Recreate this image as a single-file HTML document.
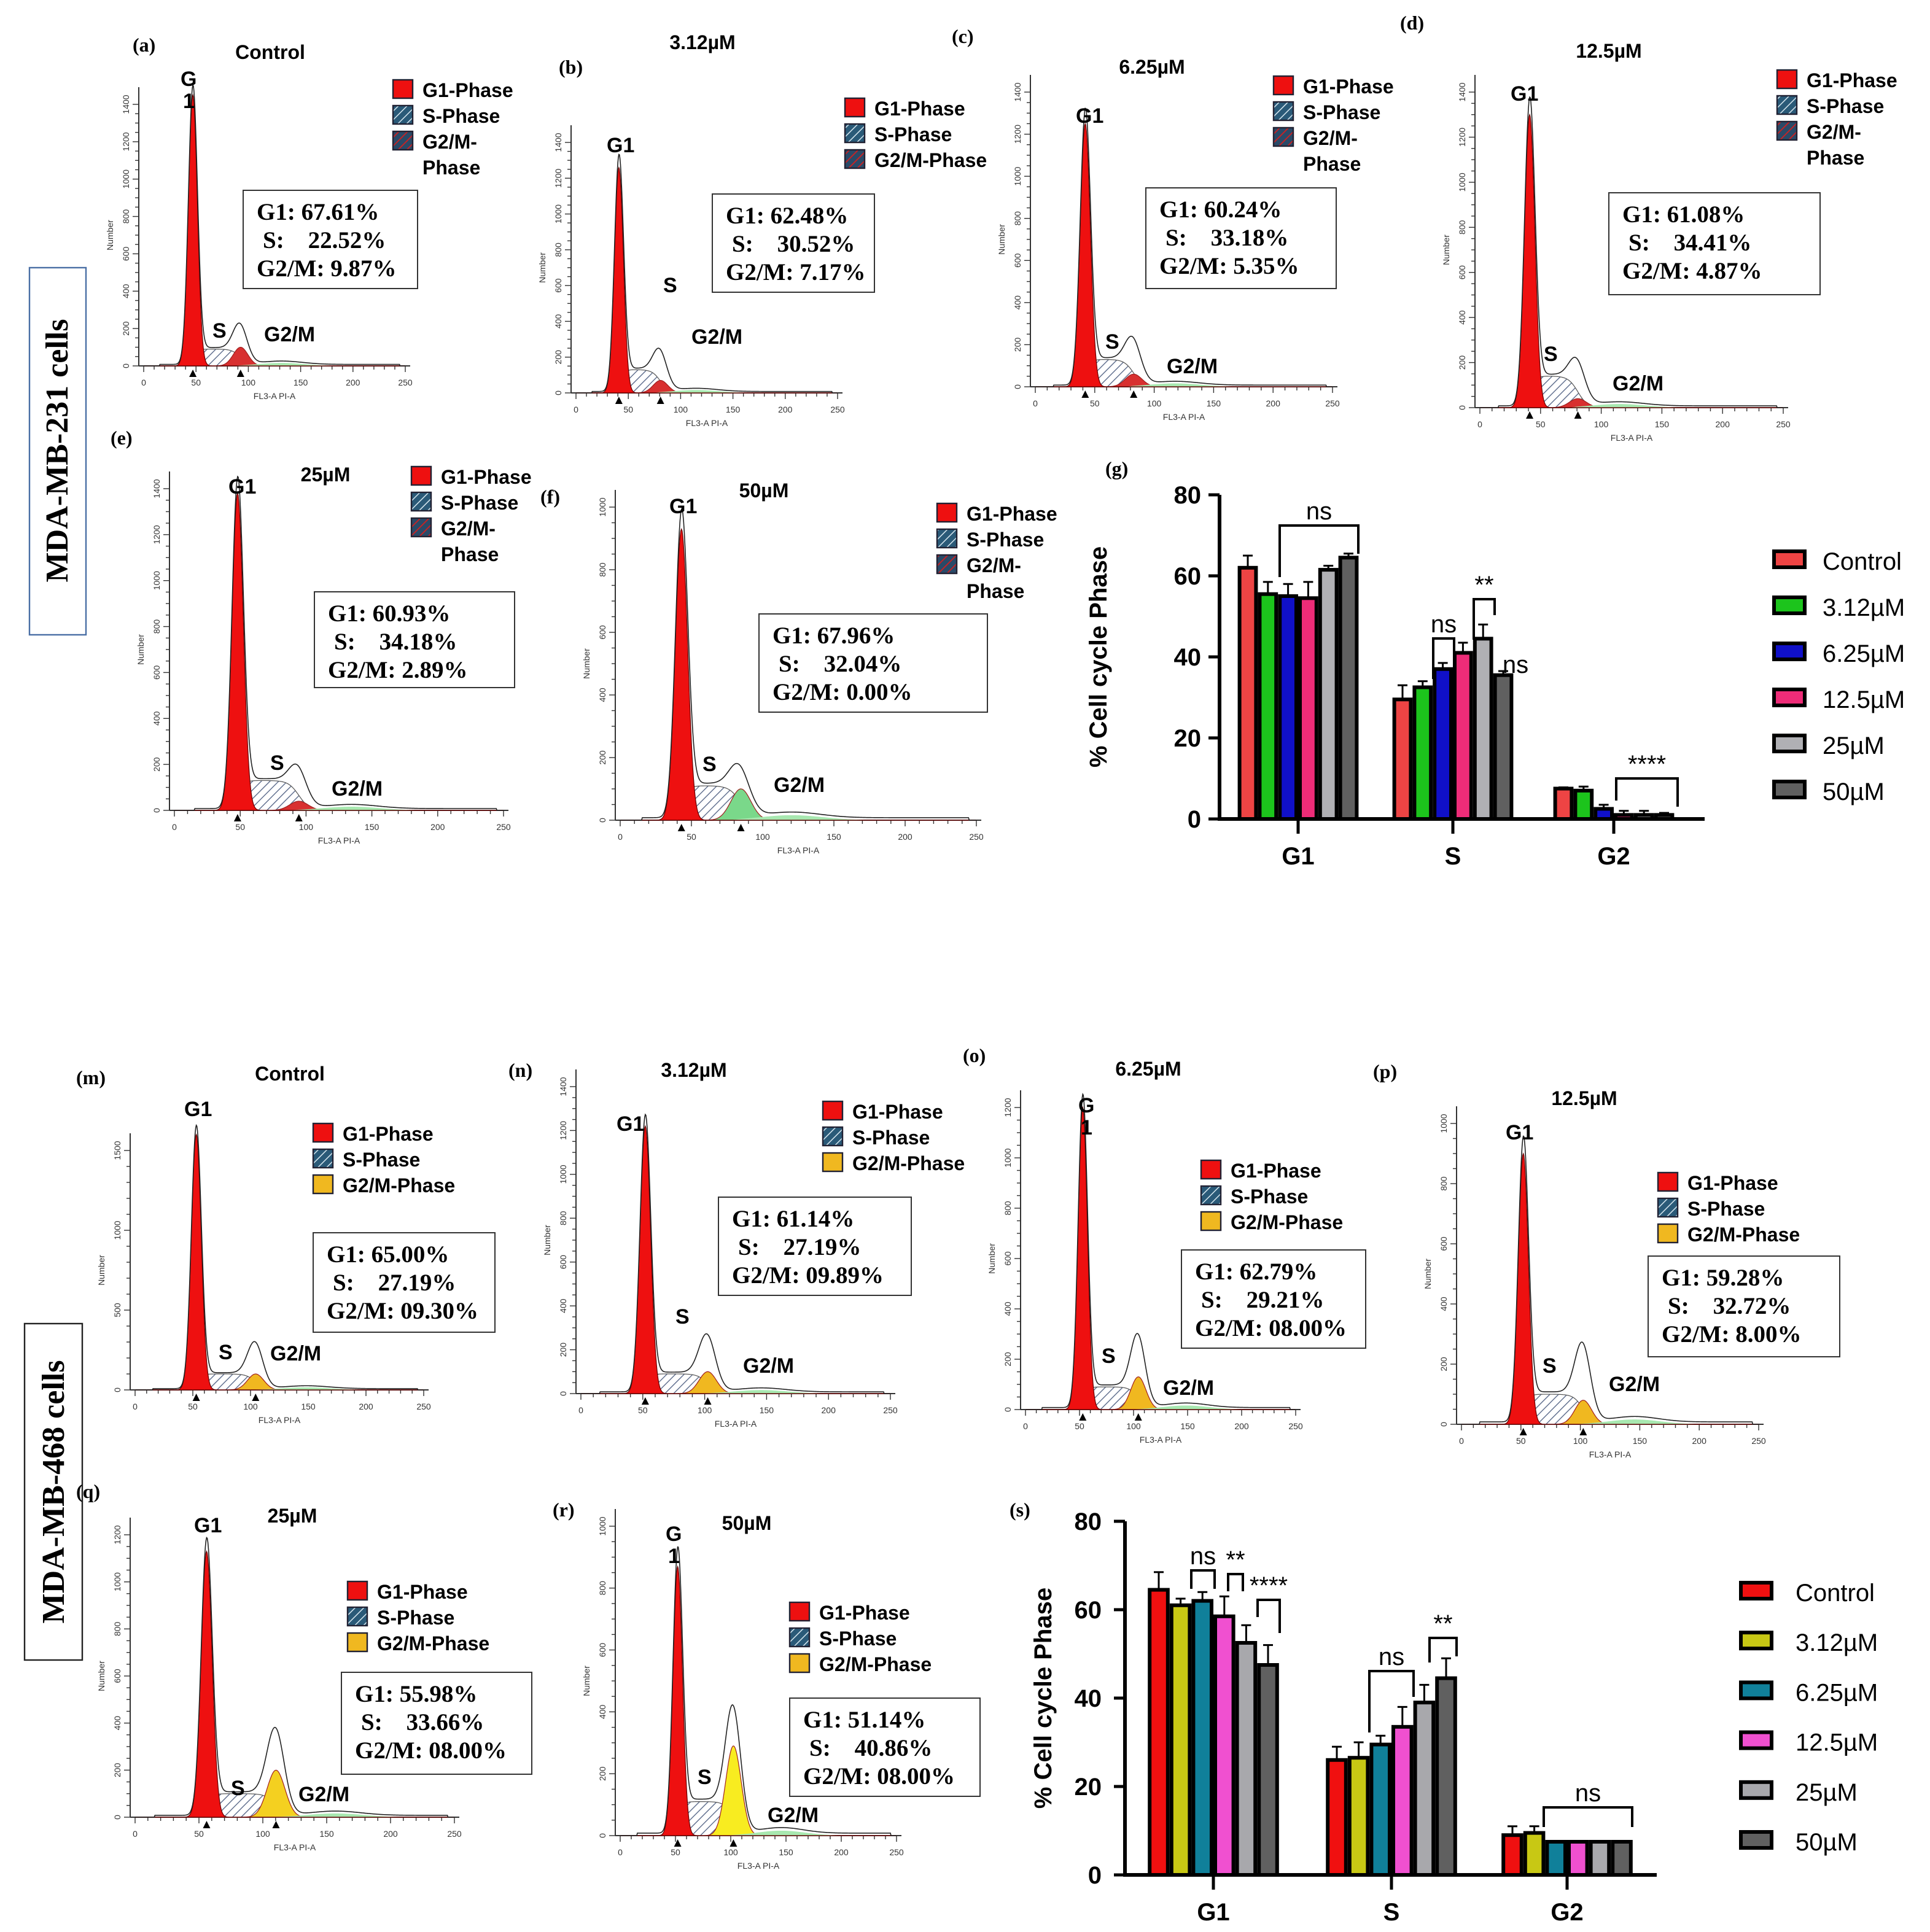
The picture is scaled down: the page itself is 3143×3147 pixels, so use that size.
<!DOCTYPE html>
<html><head><meta charset="utf-8"><style>
html,body{margin:0;padding:0;background:#fff}
svg{display:block}
.lg{font-family:"Liberation Sans",sans-serif;font-weight:bold;font-size:16px}
.st{font-family:"Liberation Serif",serif;font-weight:bold;font-size:19.5px;white-space:pre}
.tk{font-family:"Liberation Sans",sans-serif;font-size:7px;fill:#333}
.pl{font-family:"Liberation Serif",serif;font-weight:bold;font-size:16px}
.ti{font-family:"Liberation Sans",sans-serif;font-weight:bold;font-size:16px}
.pk{font-family:"Liberation Sans",sans-serif;font-weight:bold;font-size:17px}
.bt{font-family:"Liberation Sans",sans-serif;font-weight:bold;font-size:20px}
.bl{font-family:"Liberation Sans",sans-serif;font-size:20px}
</style></head><body>
<svg id="fig" xmlns="http://www.w3.org/2000/svg" width="3143" height="3147" viewBox="0 0 1571.5 1573.5">
<defs>
<pattern id="hatch" patternUnits="userSpaceOnUse" width="5" height="5" patternTransform="rotate(45)">
<rect width="5" height="5" fill="#fff"/><line x1="0" y1="0" x2="0" y2="5" stroke="#5a6a8a" stroke-width="1.4"/></pattern>
<pattern id="hatchL" patternUnits="userSpaceOnUse" width="5" height="5" patternTransform="rotate(45)">
<rect width="5" height="5" fill="#2a5a78"/><line x1="0" y1="0" x2="0" y2="5" stroke="#d8e8f0" stroke-width="1.5"/></pattern>
<pattern id="hatchR" patternUnits="userSpaceOnUse" width="5" height="5" patternTransform="rotate(45)">
<rect width="5" height="5" fill="#2a4a68"/><line x1="0" y1="0" x2="0" y2="5" stroke="#d02020" stroke-width="1.8"/></pattern>
</defs>
<g>
<rect x="24" y="218" width="46" height="299" fill="#fff" stroke="#4a6fa5" stroke-width="1.2"/>
<text transform="translate(55,367) rotate(-90)" text-anchor="middle" style="font-family:'Liberation Serif',serif;font-weight:bold;font-size:26px">MDA-MB-231 cells</text></g>
<g>
<rect x="20" y="1078" width="47" height="274" fill="#fff" stroke="#222" stroke-width="1.2"/>
<text transform="translate(52,1215) rotate(-90)" text-anchor="middle" style="font-family:'Liberation Serif',serif;font-weight:bold;font-size:26px">MDA-MB-468 cells</text></g>
<g id="hists"></g>
<g id="bars"></g>
</svg>
<script>
const NS="http://www.w3.org/2000/svg";
function mk(p,tag,a,txt){const e=document.createElementNS(NS,tag);for(const k in a)e.setAttribute(k,a[k]);if(txt!==undefined)e.textContent=txt;p.appendChild(e);return e;}

// histogram panel parameters
const panelIds=['a','b','c','d','e','f','m','n','o','p','q','r'];
const panelTitles=['Control','3.12µM','6.25µM','12.5µM','25µM','50µM','Control','3.12µM','6.25µM','12.5µM','25µM','50µM'];
const g1Peak=[1450,1260,1250,1300,1380,930,1600,1220,1200,900,1130,870];
const g1Mean=[47,41,42,41,48,43,53,52,53,52,56,52];
const sLevel=[90,130,130,140,130,110,100,90,90,100,100,110];
const g2Peak=[100,70,60,40,40,100,100,100,130,80,200,290];
const g2Outline=[215,230,220,200,180,160,290,260,290,260,370,410];
const statsG1=['67.61%','62.48%','60.24%','61.08%','60.93%','67.96%','65.00%','61.14%','62.79%','59.28%','55.98%','51.14%'];
const statsS=['22.52%','30.52%','33.18%','34.41%','34.18%','32.04%','27.19%','27.19%','29.21%','32.72%','33.66%','40.86%'];
const statsG2=['9.87%','7.17%','5.35%','4.87%','2.89%','0.00%','09.30%','09.89%','08.00%','8.00%','08.00%','08.00%'];

const L={
a:{x0:117,x1:330,yb:298,yt:85,tmax:1400,tstep:200,lab:[108,42],tit:[220,48],leg:[320,65],box:[198,155,142,80],lbl:[[147,70],[173,275],[215,278]],g2c:'#d83030',twoLine:true,g1split:true},
b:{x0:469,x1:682,yb:320,yt:116,tmax:1400,tstep:200,lab:[455,60],tit:[572,40],leg:[688,80],box:[580,158,132,80],lbl:[[494,124],[540,238],[563,280]],g2c:'#d83030',twoLine:false},
c:{x0:843,x1:1085,yb:315,yt:75,tmax:1400,tstep:200,lab:[775,35],tit:[938,60],leg:[1037,62],box:[933,153,155,82],lbl:[[876,100],[900,284],[950,304]],g2c:'#d83030',twoLine:true},
d:{x0:1205,x1:1452,yb:332,yt:75,tmax:1400,tstep:200,lab:[1140,24],tit:[1310,47],leg:[1447,57],box:[1310,157,172,83],lbl:[[1230,82],[1257,294],[1313,318]],g2c:'#d83030',twoLine:true},
e:{x0:142,x1:410,yb:660,yt:398,tmax:1400,tstep:200,lab:[90,362],tit:[265,392],leg:[335,380],box:[256,482,163,78],lbl:[[186,402],[220,627],[270,648]],g2c:'#d83030',twoLine:true},
f:{x0:505,x1:795,yb:668,yt:413,tmax:1000,tstep:200,lab:[440,410],tit:[622,405],leg:[763,410],box:[618,500,186,80],lbl:[[545,418],[572,628],[630,645]],g2c:'#7ad88a',twoLine:true},
m:{x0:110,x1:345,yb:1132,yt:937,tmax:1500,tstep:500,lab:[62,883],tit:[236,880],leg:[255,915],box:[255,1004,148,81],lbl:[[150,909],[178,1107],[220,1108]],g2c:'#f0b820',twoLine:false,minor:100},
n:{x0:473,x1:725,yb:1135,yt:885,tmax:1400,tstep:200,lab:[414,877],tit:[565,877],leg:[670,897],box:[585,975,157,80],lbl:[[502,921],[550,1078],[605,1118]],g2c:'#f0b820',twoLine:false},
o:{x0:835,x1:1055,yb:1148,yt:902,tmax:1200,tstep:200,lab:[784,865],tit:[935,876],leg:[978,945],box:[962,1018,150,80],lbl:[[878,906],[897,1110],[947,1136]],g2c:'#f0b820',twoLine:false,g1split:true},
p:{x0:1190,x1:1432,yb:1160,yt:915,tmax:1000,tstep:200,lab:[1118,878],tit:[1290,900],leg:[1350,955],box:[1342,1023,156,82],lbl:[[1226,928],[1256,1118],[1310,1133]],g2c:'#f0b820',twoLine:false},
q:{x0:110,x1:370,yb:1480,yt:1250,tmax:1200,tstep:200,lab:[62,1220],tit:[238,1240],leg:[283,1288],box:[278,1362,155,83],lbl:[[158,1248],[188,1462],[243,1467]],g2c:'#f4d020',twoLine:false},
r:{x0:505,x1:730,yb:1495,yt:1243,tmax:1000,tstep:200,lab:[450,1235],tit:[608,1246],leg:[643,1305],box:[643,1383,155,80],lbl:[[542,1255],[568,1453],[625,1484]],g2c:'#f8ec20',twoLine:false,g1split:true}
};
function gauss(x,m,s){return Math.exp(-0.5*((x-m)/s)**2);}
const H=document.getElementById('hists');
panelIds.forEach((id,i)=>{
 const P=L[id];
 const g=mk(H,'g',{});
 
 
 const sx=c=>P.x0+(P.x1-P.x0)*c/250;
 const sy=v=>P.yb-(P.yb-P.yt)*v/P.tmax;
 const m1=g1Mean[i], m2=m1*1.97, s1=4.3, s2=7;
 const fG1=c=>g1Peak[i]*gauss(c,m1,s1);
 const fS=c=>{const a=1/(1+Math.exp(-(c-m1)/2.5)),b=1/(1+Math.exp((c-m2)/4));return sLevel[i]*a*b;};
 const fG2=c=>g2Peak[i]*gauss(c,m2,s2);
 const extra=g2Outline[i]-g2Peak[i]-fS(m2);
 const fO=c=>fG1(c)+fS(c)+fG2(c)+Math.max(extra,0)*gauss(c,m2,s2*0.9)+18*gauss(c,m1*2.8,20)+8*(c>15&&c<245?1:0);
 function area(f,fill,stroke){let d='M'+sx(0)+','+P.yb;for(let c=0;c<=250;c+=0.5)d+='L'+sx(c).toFixed(2)+','+sy(f(c)).toFixed(2);d+='L'+sx(250)+','+P.yb+'Z';return mk(g,'path',{d:d,fill:fill,stroke:stroke||'none','stroke-width':0.6});}
 const ax=mk(g,'g',{});
 
 
 mk(ax,'line',{x1:P.x0-4,y1:P.yb,x2:P.x1+4,y2:P.yb,stroke:'#333','stroke-width':1});
 mk(ax,'line',{x1:P.x0-4,y1:P.yb,x2:P.x0-4,y2:P.yt-14,stroke:'#333','stroke-width':1});
 const minor=P.minor||P.tstep/4;
 for(let v=0;v<=P.tmax+minor/2;v+=minor){const y=sy(v);const maj=Math.abs(v%P.tstep)<1e-6;mk(ax,'line',{x1:P.x0-(maj?9:7),y1:y,x2:P.x0-4,y2:y,stroke:'#333','stroke-width':0.7});
  if(maj)mk(ax,'text',{class:'tk',transform:`translate(${P.x0-12},${y}) rotate(-90)`,'text-anchor':'middle'},String(v));}
 for(let c=0;c<=250;c+=10){const x=sx(c);const maj=c%50==0;mk(ax,'line',{x1:x,y1:P.yb,x2:x,y2:P.yb+(maj?5:3),stroke:'#333','stroke-width':0.7});
  if(maj)mk(ax,'text',{class:'tk',x:x,y:P.yb+16,'text-anchor':'middle'},String(c));}
 mk(ax,'text',{class:'tk',x:(P.x0+P.x1)/2,y:P.yb+27,'text-anchor':'middle'},'FL3-A PI-A');
 mk(ax,'text',{class:'tk',transform:`translate(${P.x0-25},${(P.yb+P.yt)/2}) rotate(-90)`,'text-anchor':'middle'},'Number');
 const aS=area(fS,'url(#hatch)','#555');
 
 const aG2=area(fG2,P.g2c,'#a02020');
 
 const aT=area(c=>(16*gauss(c,m1*2.8,22))*(c>m2?1:gauss(c,m2,4)),'#a8e8b0','none');
 
 const aG1=area(fG1,'#ee1010','#600');
 
 let d='';for(let c=0;c<=250;c+=0.5)d+=(c?'L':'M')+sx(c).toFixed(2)+','+sy(fO(c)).toFixed(2);
 const ol=mk(g,'path',{d:d,fill:'none',stroke:'#222','stroke-width':0.8});
 
 [m1,m2].forEach(c=>{const t=mk(g,'path',{d:`M${sx(c)-3},${P.yb+9}L${sx(c)},${P.yb+3}L${sx(c)+3},${P.yb+9}Z`,fill:'#000'});});
 const pl=mk(g,'text',{class:'pl',x:P.lab[0],y:P.lab[1]},'('+id+')');
 const ti=mk(g,'text',{class:'ti',x:P.tit[0],y:P.tit[1],'text-anchor':'middle'},panelTitles[i]);
 if(P.g1split){const t=mk(g,'text',{class:'pk',x:P.lbl[0][0],y:P.lbl[0][1]},'G');mk(g,'text',{class:'pk',x:P.lbl[0][0]+2,y:P.lbl[0][1]+18},'1');}
 else{const t=mk(g,'text',{class:'pk',x:P.lbl[0][0],y:P.lbl[0][1]},'G1');}
 const sl=mk(g,'text',{class:'pk',x:P.lbl[1][0],y:P.lbl[1][1]},'S');
 const gl=mk(g,'text',{class:'pk',x:P.lbl[2][0],y:P.lbl[2][1]},'G2/M');
 const lg=mk(g,'g',{});
 const lx=P.leg[0],ly=P.leg[1];
 const g2fill=id<'g'?'url(#hatchR)':'#f0b820';
 const items=[['G1-Phase','#ee1010'],['S-Phase','url(#hatchL)'],[P.twoLine?'G2/M-':'G2/M-Phase',g2fill]];
 items.forEach((it,k)=>{const y=ly+k*21;const e=mk(lg,'rect',{x:lx,y:y,width:16,height:15,fill:it[1],stroke:'#223','stroke-width':1.2});
  mk(lg,'text',{class:'lg',x:lx+24,y:y+14},it[0]);});
 if(P.twoLine)mk(lg,'text',{class:'lg',x:lx+24,y:ly+3*21+14},'Phase');
 const B=P.box;const sb=mk(g,'g',{});
 mk(sb,'rect',{x:B[0],y:B[1],width:B[2],height:B[3],fill:'#fff',stroke:'#333','stroke-width':1});
 mk(sb,'text',{class:'st',x:B[0]+11,y:B[1]+24},'G1: '+statsG1[i]);
 mk(sb,'text',{class:'st',x:B[0]+16,y:B[1]+47},'S:    '+statsS[i]);
 mk(sb,'text',{class:'st',x:B[0]+11,y:B[1]+70},'G2/M: '+statsG2[i]);
});

// ===== bar charts =====
const groups=['G1','S','G2'];
const seriesNames=['Control','3.12µM','6.25µM','12.5µM','25µM','50µM'];
const gColors=['#ee4444','#1cc41c','#1010c8','#ee2c78','#b0b0b4','#606060'];
const sColors=['#f01010','#c8c814','#10809a','#f050d0','#a8a8ac','#606060'];
const gG1=[62,55.5,55,54.5,61.5,64.5], gS=[29.5,32.5,37,41,44.5,35.5], gG2=[7.5,7,2.5,1,1,1];
const gErrG1=[3,3,3,4,1,1], gErrS=[3.5,1.5,1.5,2.5,3.5,1], gErrG2=[0.3,1,1,1,1,0.5];
const sG1=[64.5,61,62,58.5,52.5,47.5], sS=[26,26.5,29.5,33.5,39,44.5], sG2=[9,9.5,7.5,7.5,7.5,7.5];
const sErrG1=[4,1.5,2,4.5,4,4.5], sErrS=[3,3.5,2,4.5,4,4.5], sErrG2=[2,1.5,0,0,0,0];
const yTicks=[0,20,40,60,80];
const BR=document.getElementById('bars');
function barChart(C){
 const g=mk(BR,'g',{});
 const y=v=>C.y0-(C.y0-C.y80)*v/80;
 const vals=[C.v1,C.v2,C.v3],errs=[C.e1,C.e2,C.e3];
 groups.forEach((gn,gi)=>{
  const cx=C.gx[gi];
  vals[gi].forEach((v,si)=>{
   const x=cx-3*C.bw+si*C.bw;
   const eb=mk(g,'line',{x1:x+C.bw/2,y1:y(v),x2:x+C.bw/2,y2:y(v+errs[gi][si]),stroke:'#000','stroke-width':1.5});
   
   mk(g,'line',{x1:x+C.bw/2-4,y1:y(v+errs[gi][si]),x2:x+C.bw/2+4,y2:y(v+errs[gi][si]),stroke:'#000','stroke-width':1.5});
   const r=mk(g,'rect',{x:x+1.5,y:y(v),width:C.bw-3,height:C.y0-y(v),fill:C.colors[si],stroke:'#000','stroke-width':3});
   
  });
  mk(g,'line',{x1:cx,y1:C.y0,x2:cx,y2:C.y0+12,stroke:'#000','stroke-width':2.5});
  const t=mk(g,'text',{class:'bt',x:cx,y:C.y0+37,'text-anchor':'middle'},gn);
 });
 const xa=mk(g,'line',{x1:C.xl,y1:C.y0,x2:C.xr,y2:C.y0,stroke:'#000','stroke-width':3});
 const ya=mk(g,'line',{x1:C.xl,y1:C.y0+1.5,x2:C.xl,y2:C.y80,stroke:'#000','stroke-width':3});
 yTicks.forEach(v=>{mk(g,'line',{x1:C.xl-9,y1:y(v),x2:C.xl,y2:y(v),stroke:'#000','stroke-width':2.5});
  const t=mk(g,'text',{class:'bt',x:C.xl-C.tkx,y:y(v)+7,'text-anchor':'end'},String(v));});
 const yt=mk(g,'text',{class:'bt',transform:`translate(${C.xl-C.tto},${(C.y0+C.y80)/2}) rotate(-90)`,'text-anchor':'middle','font-size':C.tf},'% Cell cycle Phase');
 const pl=mk(g,'text',{class:'pl',x:C.lab[0],y:C.lab[1]},'('+C.id+')');
 seriesNames.forEach((n,si)=>{const ly=C.ly[0]+si*C.ly[1];
  const le=mk(g,'g',{});
  mk(le,'rect',{x:C.lx+1.5,y:ly-7,width:25,height:13,fill:C.colors[si],stroke:'#000','stroke-width':3});
  mk(le,'text',{class:'bl',x:C.ltx,y:ly+8,'font-size':C.lf},n);});
 C.sig.forEach(s=>{
  const bx=mk(g,'path',{d:`M${s[0]},${s[3]}L${s[0]},${s[2]}L${s[1]},${s[2]}L${s[1]},${s[4]}`,fill:'none',stroke:'#000','stroke-width':2});
  
  const t=mk(g,'text',{class:'bl',x:(s[0]+s[1])/2,y:s[2]-5,'text-anchor':'middle','font-size':17},s[5]);
 });
 (C.extra||[]).forEach(e=>{const t=mk(g,'text',{class:'bl',x:e[0],y:e[1],'text-anchor':'middle','font-size':17},e[2]);});
}
barChart({id:'g',xl:993,xr:1388,y0:667,y80:403,gx:[1057,1183,1314],bw:16.4,v1:gG1,v2:gS,v3:gG2,e1:gErrG1,e2:gErrS,e3:gErrG2,colors:gColors,lx:1443,ltx:1484,ly:[456,37.5],lf:21,tf:21,tkx:15,tto:92,lab:[900,387],
 sig:[[1042,1106,428,470,451,'ns'],[1167,1184,520,553,536,'ns'],[1200,1217,488,521,501,'**'],[1316,1366,634,652,657,'****']],
 extra:[[1234,548,'ns']]});
barChart({id:'s',xl:916,xr:1349,y0:1527,y80:1239,gx:[988,1133,1276],bw:17.8,v1:sG1,v2:sS,v3:sG2,e1:sErrG1,e2:sErrS,e3:sErrG2,colors:sColors,lx:1416,ltx:1462,ly:[1296,40.6],lf:23,tf:22,tkx:19,tto:60,lab:[822,1235],
 sig:[[970,989,1279,1294,1294,'ns'],[1000,1012,1282,1296,1296,'**'],[1024,1042,1303,1317,1330,'****'],[1115,1151,1361,1411,1382,'ns'],[1164,1186,1334,1354,1349,'**'],[1257,1329,1472,1488,1488,'ns']]});
</script>
</body></html>
